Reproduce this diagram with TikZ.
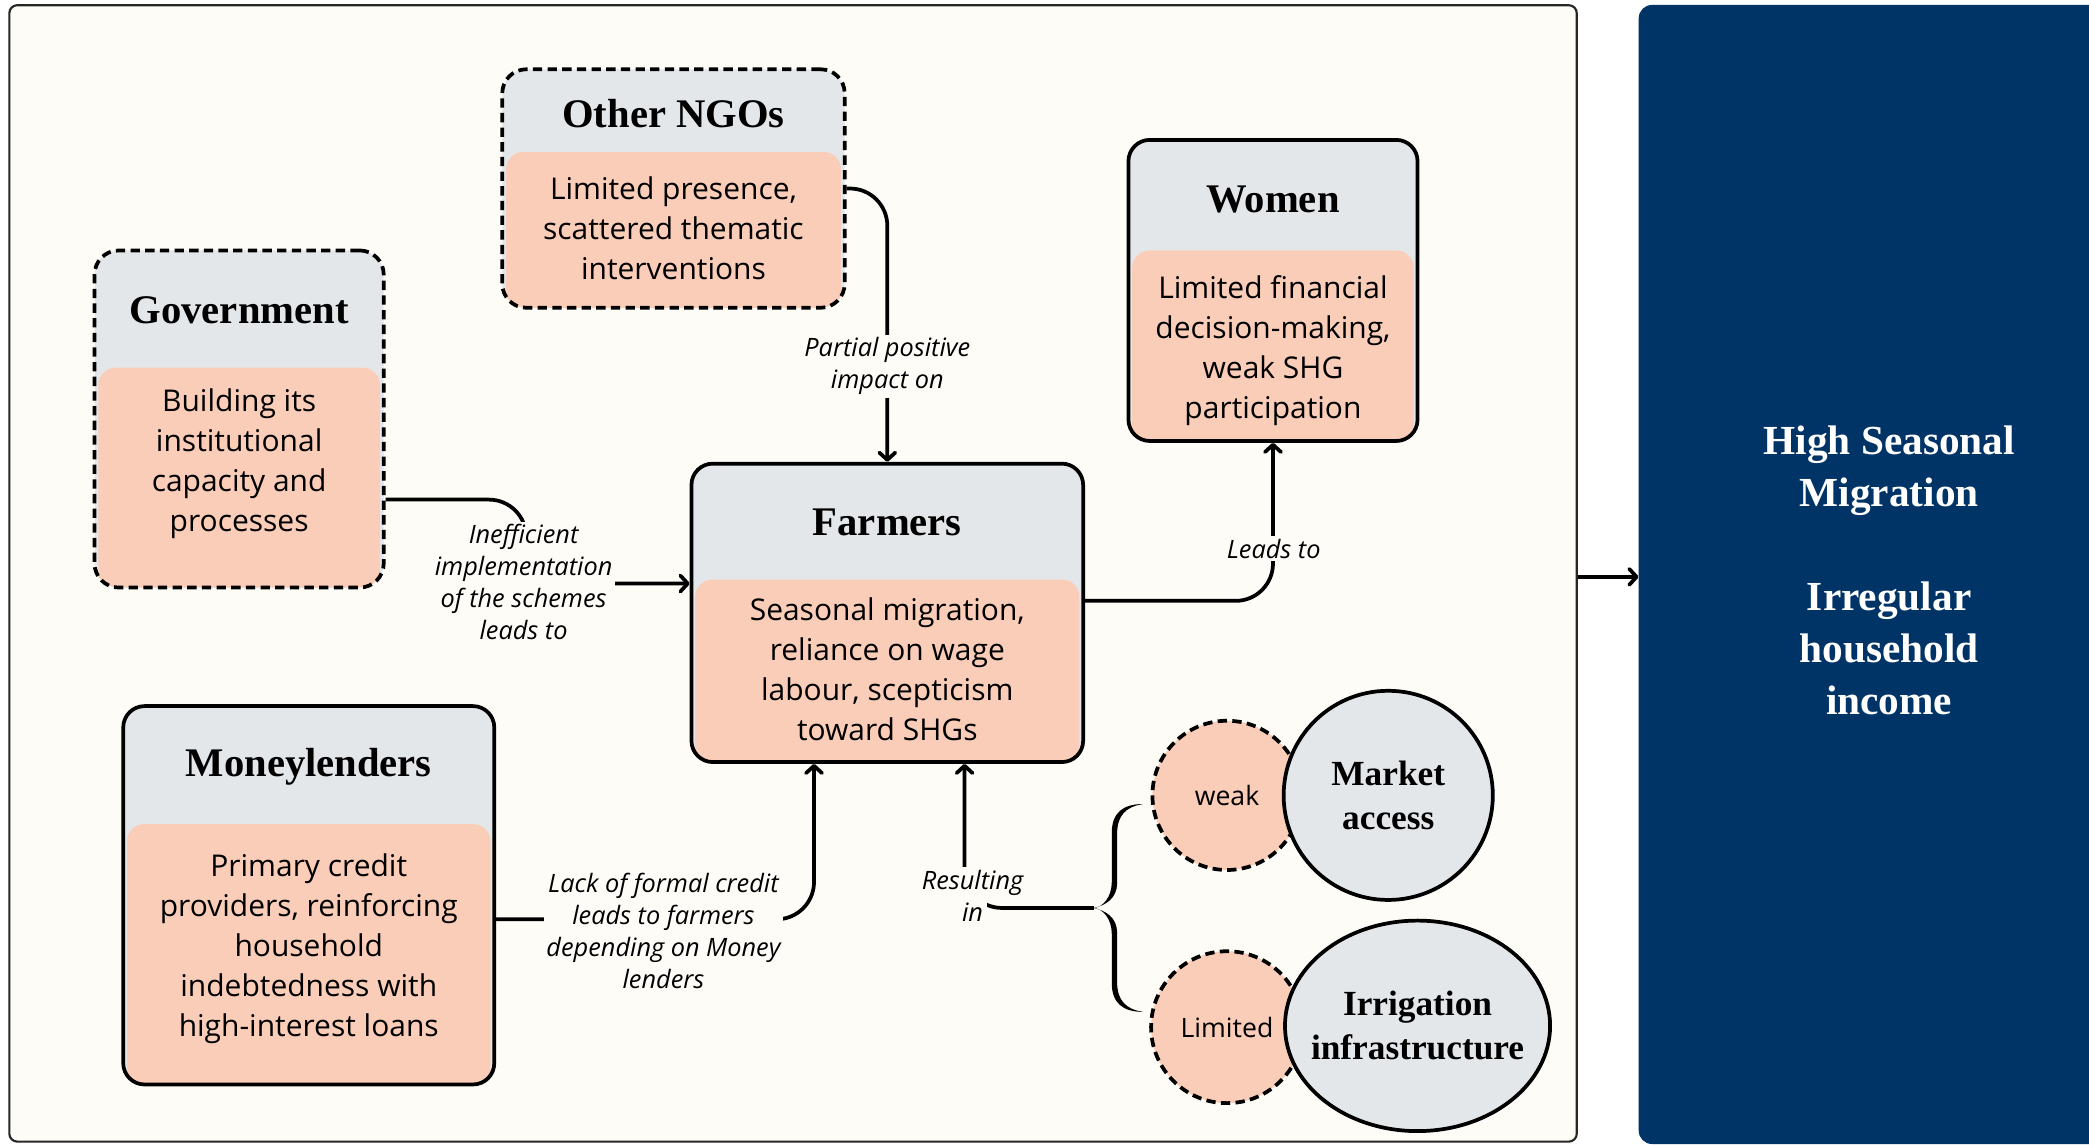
\documentclass[tikz,border=0pt]{standalone}
\usepackage{fontspec}
\setmainfont{Open Sans}
\newfontfamily\serifhead{Liberation Serif}
\usetikzlibrary{arrows.meta,shapes.geometric,calc}

\definecolor{panelbg}{RGB}{253,252,246}
\definecolor{headgray}{RGB}{228,231,234}
\definecolor{peach}{RGB}{250,205,185}
\definecolor{navy}{RGB}{0,51,102}

\newcommand\txtbody{\fontsize{22.5}{30}\selectfont}
\newcommand\txthead{\serifhead\bfseries\fontsize{30.5}{36}\selectfont}
\newcommand\txtlabel{\itshape\fontsize{19}{24}\selectfont}
\newcommand\txtcirc{\fontsize{20}{24}\selectfont}
\newcommand\txtcirchead{\serifhead\bfseries\fontsize{26.5}{33}\selectfont}
\newcommand\txtside{\serifhead\bfseries\fontsize{31}{39}\selectfont}

% actor card: grey header strip over a peach body, clipped to the card outline
% #1 options, #2 name, #3 centre, #4 width, #5 height, #6 header height
\newcommand\actorcard[6]{%
  \node[#1, minimum width=#4, minimum height=#5,
    path picture={\fill[peach, rounded corners=13pt]
      ($(path picture bounding box.north west)+(2.8pt,-#6)$) rectangle
      ($(path picture bounding box.south east)+(-2.8pt,-30pt)$);}] (#2) at #3 {};}

\begin{document}
\begin{tikzpicture}[x=1pt,y=-1pt,
  card/.style={rectangle, draw, line width=2.8pt, rounded corners=16pt, fill=headgray, inner sep=0pt},
  dashcard/.style={card, dash pattern=on 7pt off 4pt, rounded corners=18pt},
  headtxt/.style={font=\txthead, inner sep=0pt},
  bodytxt/.style={font=\txtbody, align=center, inner sep=0pt},
  conn/.style={line width=2.8pt, rounded corners=28pt, -{Straight Barb[length=5.5pt,width=12pt,round]}},
  lbl/.style={fill=panelbg, inner sep=2pt, align=center, font=\txtlabel},
  lblline/.style={fill=panelbg, inner sep=3pt, text height=13.5pt, text depth=4.5pt, font=\txtlabel},
  dcirc/.style={circle, draw, fill=peach, line width=2.8pt, dash pattern=on 7pt off 4pt, inner sep=0pt, font=\txtcirc},
  scirc/.style={circle, draw, fill=headgray, line width=2.8pt, inner sep=0pt},
  sell/.style={ellipse, draw, fill=headgray, line width=2.8pt, inner sep=0pt},
  circhead/.style={font=\txtcirchead, align=center, inner sep=0pt},
  panel/.style={rectangle, draw=black!85, line width=1.6pt, fill=panelbg, rounded corners=6pt, inner sep=0pt},
  sidepanel/.style={rectangle, fill=navy, rounded corners=10pt, inner sep=0pt},
  sidetxt/.style={font=\txtside, text=white, align=center, inner sep=0pt}]

\useasboundingbox (0,0) rectangle (1568,859);
\fill[white] (0,0) rectangle (1568,859);

% two panels
\node[panel, minimum width=1176.5pt, minimum height=853pt] (board) at (595.25,430.4) {};
\node[sidepanel, minimum width=376pt, minimum height=855pt] (outcome) at (1418,431.2) {};
\node[sidetxt] (outcomeT) at (1418,428) {High Seasonal\\Migration\\[39pt]Irregular\\household\\income};

% actor cards
\actorcard{dashcard}{ngo}{(505.5,141.5)}{257pt}{179pt}{62pt}
\node[headtxt] (ngoT) at (505.5,85) {Other NGOs};
\node[bodytxt] (ngoB) at (505.5,171) {Limited presence,\\scattered thematic\\interventions};

\actorcard{dashcard}{gov}{(179.5,314.5)}{217pt}{253pt}{88pt}
\node[headtxt] (govT) at (179.5,233) {Government};
\node[bodytxt] (govB) at (179.5,348) {Building its\\institutional\\capacity and\\processes};

\actorcard{card}{women}{(955.5,218)}{217pt}{226pt}{83pt}
\node[headtxt] (womenT) at (955.5,150) {Women};
\node[bodytxt] (womenB) at (955.5,263) {Limited financial\\decision-making,\\weak SHG\\participation};

\actorcard{card}{farm}{(666,460)}{294pt}{224pt}{87pt}
\node[headtxt] (farmT) at (666,392) {Farmers};
\node[bodytxt] (farmB) at (666,502) {Seasonal migration,\\reliance on wage\\labour, scepticism\\toward SHGs};

\actorcard{card}{money}{(231.75,672)}{278.5pt}{284pt}{88.5pt}
\node[headtxt] (moneyT) at (231.75,575.5) {Moneylenders};
\node[bodytxt] (moneyB) at (231.75,712) {Primary credit\\providers, reinforcing\\household\\indebtedness with\\high-interest loans};

% constraint pairs: a dashed qualifier behind each factor
\node[dcirc, minimum size=112pt] (weak) at (921,597) {weak};
\node[scirc, minimum size=157pt] (market) at (1042,597) {};
\node[circhead] (marketT) at (market) {Market\\access};
\node[dcirc, minimum size=114pt] (limited) at (921,771) {Limited};
\node[sell, minimum width=199pt, minimum height=158pt] (irrig) at (1064,770) {};
\node[circhead] (irrigT) at (irrig) {Irrigation\\infrastructure};

% tapered curly brace grouping the two factors
\fill (858,603.5) .. controls (843,603.5) and (834.5,610) .. (834.5,625)
  -- (834.5,662) .. controls (834.5,673) and (828,681.5) .. (820,681.5)
  .. controls (830,680) and (838.5,674) .. (838.5,663)
  -- (838.5,626) .. controls (838.5,612) and (845,605.5) .. (858,603.5) -- cycle;
\fill (858,759.5) .. controls (843,759.5) and (834.5,753) .. (834.5,738)
  -- (834.5,701) .. controls (834.5,690) and (828,681.5) .. (820,681.5)
  .. controls (830,683) and (838.5,689) .. (838.5,700)
  -- (838.5,737) .. controls (838.5,751) and (845,757.5) .. (858,759.5) -- cycle;
\coordinate (bracetip) at (821,681.5);

% connectors
\draw[conn] (ngo.east) -| (farm.north);
\node[lbl] (lblNgo) at (666,275) {Partial positive\\impact on};

\draw[conn] ([yshift=-60.5pt]gov.east) -| (395,438) -- ([yshift=22pt]farm.west);
\node[lbl] (lblGov) at (393,437) {Inefficient\\implementation\\of the schemes\\leads to};

\draw[conn] ([yshift=9pt]farm.east) -| (women.south);
\node[lbl] (lblWomen) at (956,412) {Leads to};

\draw[conn] ([yshift=-18pt]money.east) -| ([xshift=-55pt]farm.south);
\node[lbl] (lblMoney) at (498,699) {Lack of formal credit\\leads to farmers\\depending on Money\\lenders};

\draw[conn] (bracetip) -| ([xshift=58pt]farm.south);
\node[lblline] (lblRes1) at (730,663) {Resulting};
\node[lblline] (lblRes2) at (730,687) {in};

\coordinate (exit) at ([yshift=-2.6pt]board.east);
\draw[conn] (exit) -- (exit -| outcome.west);
\end{tikzpicture}
\end{document}
